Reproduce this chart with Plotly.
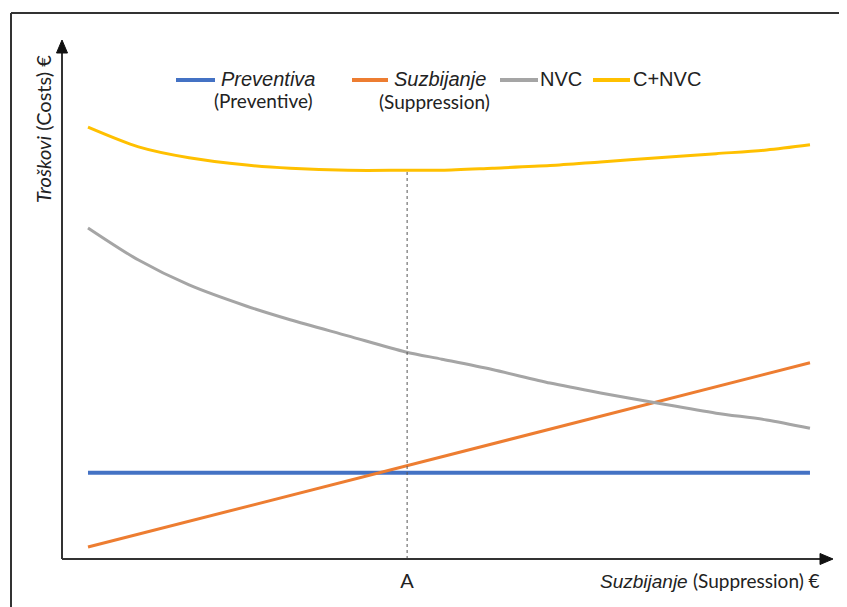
import plotly.graph_objects as go

# ---- data ----
x_curve = [0, 7, 14, 22, 28, 36, 44, 49, 56, 64, 71, 79, 87, 94, 100]
nvc = [63.8, 57.6, 52.8, 48.7, 46.1, 43.0, 39.9, 38.5, 36.5, 33.9, 32.0, 30.0, 28.1, 26.8, 25.2]
c_nvc = [83.2, 79.4, 77.3, 75.9, 75.3, 74.9, 74.9, 74.9, 75.3, 75.8, 76.5, 77.3, 78.1, 78.8, 79.8]
x_line = [0, 100]
preventiva = [16.6, 16.6]
suzbijanje = [2.3, 37.8]
point_a = 44.2
point_a_top = 74.6
tick_vals = [point_a]
tick_text = ["A"]

# page body has an 8px margin; the figure overflows the viewport slightly on the right/bottom
OFF = 8
W, H = 847, 607
L, T, PW, PH = 62, 40, 770, 519   # plot area in page pixels
RIGHT, BOTTOM = OFF + W, OFF + H  # figure edges in page pixels

def px(xp):
    return (xp - L) / PW

def py(yp):
    return (T + PH - yp) / PH

BLUE = "#4472C4"
ORANGE = "#ED7D31"
GRAY = "#A5A5A5"
YELLOW = "#FFC000"
TXT = "#222222"
ARIAL = "Liberation Sans, Arial, sans-serif"
CAL = "Lato, Open Sans, sans-serif"

fig = go.Figure()
fig.add_trace(go.Scatter(x=x_line, y=preventiva, mode="lines", line=dict(color=BLUE, width=4), name="Preventiva"))
fig.add_trace(go.Scatter(x=x_line, y=suzbijanje, mode="lines", line=dict(color=ORANGE, width=3), name="Suzbijanje"))
fig.add_trace(go.Scatter(x=x_curve, y=nvc, mode="lines", line=dict(color=GRAY, width=3, shape="spline", smoothing=0.8), name="NVC"))
fig.add_trace(go.Scatter(x=x_curve, y=c_nvc, mode="lines", line=dict(color=YELLOW, width=3, shape="spline", smoothing=0.8), name="C+NVC"))

shapes = []
# outer frame (top and left edges only are visible in the reference)
shapes.append(dict(type="line", xref="paper", yref="paper", x0=px(11), x1=px(11), y0=py(BOTTOM), y1=py(13),
                   line=dict(color="#333333", width=2)))
shapes.append(dict(type="line", xref="paper", yref="paper", x0=px(11), x1=px(RIGHT), y0=py(13), y1=py(13),
                   line=dict(color="#333333", width=2)))
# dotted line at A
shapes.append(dict(type="line", xref="x", yref="y", x0=point_a, x1=point_a, y0=0, y1=point_a_top,
                   line=dict(color="#555555", width=1, dash="dot")))
# axes
shapes.append(dict(type="line", xref="paper", yref="paper", x0=px(62), x1=px(62), y0=py(559), y1=py(50),
                   line=dict(color="#333333", width=2)))
shapes.append(dict(type="line", xref="paper", yref="paper", x0=px(62), x1=px(822), y0=py(559), y1=py(559),
                   line=dict(color="#333333", width=2)))
def tri(pts):
    p = "M " + " L ".join(f"{px(a)},{py(b)}" for a, b in pts) + " Z"
    return dict(type="path", xref="paper", yref="paper", path=p, fillcolor="#111111", line=dict(color="#111111", width=1))
shapes.append(tri([(62, 40), (56.5, 53), (67.5, 53)]))
shapes.append(tri([(833, 559), (820, 553.5), (820, 564.5)]))
# legend swatches
for c, a, b in [(BLUE, 176, 215), (ORANGE, 352, 388), (GRAY, 500, 538), (YELLOW, 593, 630)]:
    shapes.append(dict(type="line", xref="paper", yref="paper", x0=px(a), x1=px(b), y0=py(80), y1=py(80),
                       line=dict(color=c, width=4)))

ann = []
def text(t, xp, yp, font, size, xanchor="left", angle=0):
    ann.append(dict(text=t, xref="paper", yref="paper", x=px(xp), y=py(yp), xanchor=xanchor, yanchor="middle",
                    showarrow=False, textangle=angle, font=dict(family=font, size=size, color=TXT)))

text("<i>Preventiva</i>", 219, 79, ARIAL, 20)
text("(Preventive)", 264, 101, CAL, 19, "center")
text("<i>Suzbijanje</i>", 392, 79, ARIAL, 20)
text("(Suppression)", 434, 102, CAL, 19, "center")
text("NVC", 538, 79, ARIAL, 20)
text("C+NVC", 631, 79, ARIAL, 20)
text("<i>Suzbijanje</i> <span style='font-family:Lato'>(Suppression) €</span>", 822, 580, ARIAL, 19, "right")
text("<i>Troškovi</i> (Costs) €", 43, 129, CAL, 20, "center", -90)

fig.update_layout(
    width=W, height=H,
    margin=dict(l=L - OFF, r=W - (L - OFF) - PW, t=T - OFF, b=H - (T - OFF) - PH),
    paper_bgcolor="white", plot_bgcolor="white",
    showlegend=False,
    shapes=shapes, annotations=ann,
    xaxis=dict(range=[-3.6, 103.05], showgrid=False, zeroline=False, showline=False,
               tickvals=tick_vals, ticktext=tick_text, ticks="outside", ticklen=4,
               tickcolor="rgba(0,0,0,0)",
               tickfont=dict(family=CAL, size=20, color=TXT)),
    yaxis=dict(range=[0, 100], showgrid=False, zeroline=False, showline=False, showticklabels=False, ticks=""),
)

fig.write_html("out.html")
